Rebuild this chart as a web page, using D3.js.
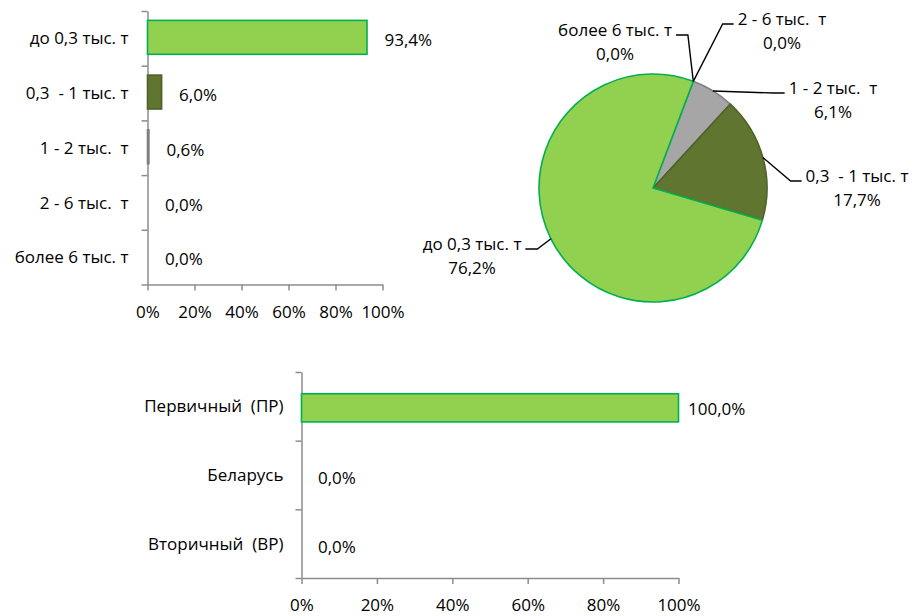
<!DOCTYPE html>
<html>
<head>
<meta charset="utf-8">
<script src="https://cdn.jsdelivr.net/npm/d3@7"></script>
<style>
  html, body { margin: 0; padding: 0; background: #ffffff; }
  svg text { font-family: "Open Sans", "Noto Sans", sans-serif; font-size: 17px; fill: #000000; white-space: pre; }
  .axis path, .axis line { stroke: #8c8c8c; stroke-width: 1.5px; }
  .leader { fill: none; stroke: #000000; stroke-width: 1.4px; }
</style>
</head>
<body>
<svg id="chart" width="914" height="616"></svg>
<script>
// Shares of producers by annual volume (top bar chart)
const sizeCategories = ["до 0,3 тыс. т", "0,3  - 1 тыс. т", "1 - 2 тыс.  т", "2 - 6 тыс.  т", "более 6 тыс. т"];
const sizeCountShare = [0.934, 0.060, 0.006, 0.000, 0.000];

// Shares of volume by producer size (pie)
const pieCategories = ["более 6 тыс. т", "2 - 6 тыс.  т", "1 - 2 тыс.  т", "0,3  - 1 тыс. т", "до 0,3 тыс. т"];
const pieShare = [0.000, 0.000, 0.061, 0.177, 0.762];

// Market split by source (bottom bar chart)
const sourceCategories = ["Первичный  (ПР)", "Беларусь", "Вторичный  (ВР)"];
const sourceShare = [1.000, 0.000, 0.000];

const xTicks = [0, 0.2, 0.4, 0.6, 0.8, 1.0];

// Fill / outline per size class
const sizeFill = {
  "до 0,3 тыс. т": "#92d050",
  "0,3  - 1 тыс. т": "#5f7530",
  "1 - 2 тыс.  т": "#a6a6a6",
  "2 - 6 тыс.  т": "#4f81bd",
  "более 6 тыс. т": "#c0504d"
};
const sizeStroke = {
  "до 0,3 тыс. т": "#00b050",
  "0,3  - 1 тыс. т": "#4f6228",
  "1 - 2 тыс.  т": "#7f7f7f",
  "2 - 6 тыс.  т": "#385d8a",
  "более 6 тыс. т": "#8c3836"
};

const ru = d3.formatLocale({ decimal: ",", thousands: "\u00a0", grouping: [3], currency: ["", ""] });
const pct1 = ru.format(".1%");
const pct0 = ru.format(".0%");

const svg = d3.select("#chart");

function barChart(opts) {
  const g = svg.append("g");
  const n = opts.categories.length;
  const x = d3.scaleLinear().domain([0, 1]).range([opts.left, opts.right]);
  const y = d3.scaleBand().domain(opts.categories).range([opts.top, opts.bottom]).padding(0);
  const yIdx = d3.scaleLinear().domain([0, n]).range([opts.top, opts.bottom]);
  const barH = y.bandwidth() * opts.barFrac;

  // category boundary ticks
  g.append("g").attr("class", "axis")
    .attr("transform", `translate(${opts.left},0)`)
    .call(d3.axisLeft(yIdx).tickValues(d3.range(n + 1)).tickFormat("").tickSize(6).tickSizeOuter(0));

  // category labels
  const lab = g.append("g")
    .attr("transform", `translate(${opts.left},0)`)
    .call(d3.axisLeft(y).tickSize(0).tickPadding(opts.labelPad));
  lab.select(".domain").remove();
  lab.selectAll("text").attr("dy", "0.36em").attr("fill", null);
  lab.attr("font-family", null).attr("font-size", null);

  // value axis
  const xa = g.append("g").attr("class", "axis")
    .attr("transform", `translate(0,${opts.bottom})`)
    .call(d3.axisBottom(x).tickValues(xTicks).tickFormat(pct0).tickSize(6).tickSizeOuter(0).tickPadding(opts.tickPad));
  xa.attr("font-family", null).attr("font-size", null);
  xa.selectAll("text").attr("fill", null);

  const rows = opts.categories.map((c, i) => ({ c, v: opts.values[i] }));

  g.append("g").selectAll("rect")
    .data(rows.filter(d => d.v > 0))
    .join("rect")
    .attr("x", x(0))
    .attr("y", d => y(d.c) + (y.bandwidth() - barH) / 2 + opts.barShift)
    .attr("width", d => x(d.v) - x(0))
    .attr("height", barH)
    .attr("fill", d => opts.fill(d.c))
    .attr("stroke", d => opts.stroke(d.c))
    .attr("stroke-width", 1.6);

  g.append("g").selectAll("text")
    .data(rows)
    .join("text")
    .attr("x", d => Math.min(x(d.v) + opts.valuePad, x(1) + opts.maxPad))
    .attr("y", d => y(d.c) + y.bandwidth() / 2 + opts.valueShift)
    .attr("dy", "0.36em")
    .text(d => pct1(d.v));
}

barChart({
  categories: sizeCategories, values: sizeCountShare,
  left: 147.5, right: 382.5, top: 11, bottom: 284.5,
  barFrac: 0.62, barShift: -1, labelPad: 19, tickPad: 15.5,
  valuePad: 17.5, maxPad: 40, valueShift: 2,
  fill: c => sizeFill[c], stroke: c => sizeStroke[c]
});

barChart({
  categories: sourceCategories, values: sourceShare,
  left: 301.5, right: 678.5, top: 372, bottom: 578,
  barFrac: 0.41, barShift: 1.5, labelPad: 18, tickPad: 15,
  valuePad: 16.5, maxPad: 9.5, valueShift: 3,
  fill: () => "#92d050", stroke: () => "#00b050"
});

// ---- pie ----
const cx = 653, cy = 188, R = 114;
const start = 20.7 * Math.PI / 180;
const pieRows = pieCategories.map((c, i) => ({ c, v: pieShare[i] }));
const arcs = d3.pie().sort(null).value(d => d.v).startAngle(start).endAngle(start + 2 * Math.PI)(pieRows);
const arc = d3.arc().innerRadius(0).outerRadius(R);

const pg = svg.append("g").attr("transform", `translate(${cx},${cy})`);
pg.selectAll("path")
  .data(arcs.filter(a => a.data.v > 0))
  .join("path")
  .attr("d", arc)
  .attr("fill", a => sizeFill[a.data.c])
  .attr("stroke", a => sizeStroke[a.data.c])
  .attr("stroke-width", 1.6)
  .attr("stroke-linejoin", "round");

// label placement (text block centre relative to pie centre, side of the leader)
const pieLabelPos = {
  "более 6 тыс. т": { dx: -38, dy: -158, side: "left" },
  "2 - 6 тыс.  т": { dx: 129, dy: -169, side: "right" },
  "1 - 2 тыс.  т": { dx: 180, dy: -100, side: "right" },
  "0,3  - 1 тыс. т": { dx: 204, dy: -12, side: "right" },
  "до 0,3 тыс. т": { dx: -181, dy: 56, side: "left" }
};

const lg = pg.append("g");
arcs.forEach(a => {
  const p = pieLabelPos[a.data.c];
  const t = lg.append("text").attr("text-anchor", "middle");
  t.append("tspan").attr("x", p.dx).attr("y", p.dy).attr("dy", "0.36em").text(a.data.c);
  t.append("tspan").attr("x", p.dx).attr("y", p.dy + 23.5).attr("dy", "0.36em").text(pct1(a.data.v));
  const w = t.node().firstChild.getComputedTextLength();
  const mid = (a.startAngle + a.endAngle) / 2;
  const ax = R * Math.sin(mid), ay = -R * Math.cos(mid);
  const ly = p.dy + 5;
  const ex = p.side === "right" ? p.dx - w / 2 - 4 : p.dx + w / 2 + 4;
  const bx = p.side === "right" ? ex - 11 : ex + 12;
  lg.append("path").attr("class", "leader")
    .attr("d", d3.line()([[ex, ly], [bx, ly], [ax, ay]]));
});
</script>
</body>
</html>
